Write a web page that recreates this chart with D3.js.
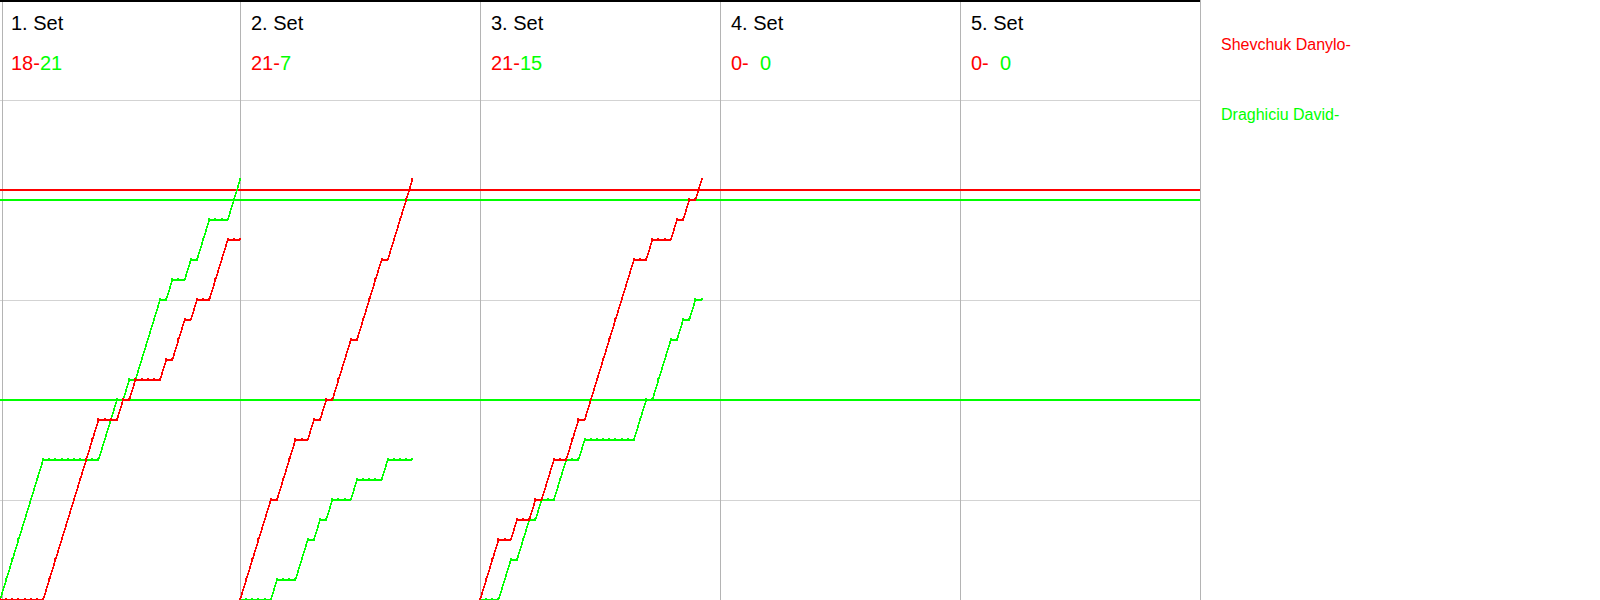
<!DOCTYPE html>
<html><head><meta charset="utf-8">
<script src="https://cdn.jsdelivr.net/npm/d3@7"></script>
<style>body{margin:0;background:#fff;} svg{display:block;font-family:"Liberation Sans",Arial,sans-serif;}</style>
</head><body><svg id="c" width="1600" height="600"></svg>
<script>
// ---- data ----
const setLabels = ["1. Set", "2. Set", "3. Set", "4. Set", "5. Set"];
const redScores = [18, 21, 21, 0, 0];
const greenScores = [21, 7, 15, 0, 0];
const playerNames = ["Shevchuk Danylo-", "Draghiciu David-"];
// rally winners per set: R = Shevchuk Danylo, G = Draghiciu David
const set1Winners = "GGGGGGGRRRRRRRRRGGGRGRGGGGRGRRGRGGRRRGG".split("");
const set2Winners = "RRRRRGRRRGGRGRGRRRGRRRRGRRRR".split("");
const set3Winners = "RRRGGRGGRGRRGGRRGRRRRRRRRGGRGGGRGRGR".split("");
const set4Winners = [];
const set5Winners = [];
const gridScores = [5, 10, 15, 20, 25];
const refLineScores = [20.5, 20, 10];
const refLinePlayers = ["R", "G", "G"];

// ---- drawing ----
const W = 1600, H = 600, panelW = 240, nSets = 5;
const plotRight = panelW * nSets;
const COLORS = { R: "#ff0000", G: "#00ff00" };
const allWinners = [set1Winners, set2Winners, set3Winners, set4Winners, set5Winners];
const maxRallies = d3.max(allWinners, w => w.length);

const svg = d3.select("#c");
svg.append("rect").attr("width", W).attr("height", H).attr("fill", "#fff");

const y = d3.scaleLinear().domain([0, 25]).range([600, 100]);

// horizontal gridlines
svg.append("g").selectAll("line").data(gridScores).join("line")
  .attr("x1", 0).attr("x2", plotRight)
  .attr("y1", d => Math.round(y(d)) + 0.5).attr("y2", d => Math.round(y(d)) + 0.5)
  .attr("stroke", "#d3d3d3").attr("stroke-width", 1);

// vertical separators
const sepX = d3.range(nSets + 1).map(i => i === 0 ? 2 : i * panelW);
svg.append("g").selectAll("line").data(sepX).join("line")
  .attr("x1", d => d + 0.5).attr("x2", d => d + 0.5)
  .attr("y1", 0).attr("y2", H)
  .attr("stroke", "#b4b4b4").attr("stroke-width", 1);

// top border
svg.append("rect").attr("x", 0).attr("y", 0).attr("width", plotRight).attr("height", 2).attr("fill", "#000");

// reference lines
svg.append("g").selectAll("line").data(refLineScores).join("line")
  .attr("x1", 0).attr("x2", plotRight)
  .attr("y1", d => y(d)).attr("y2", d => y(d))
  .attr("stroke", (d, i) => COLORS[refLinePlayers[i]]).attr("stroke-width", 1.5)
  .attr("shape-rendering", "crispEdges");

// per set
allWinners.forEach((winners, k) => {
  const x0 = k * panelW;
  const x = d3.scaleLinear().domain([0, maxRallies]).range([x0, x0 + panelW]);
  const g = svg.append("g");
  g.append("text").attr("x", x0 + 11).attr("y", 30).attr("font-size", 20).attr("fill", "#000").text(setLabels[k]);
  g.append("text").attr("x", x0 + 11).attr("y", 70).attr("font-size", 20).attr("fill", COLORS.R).text(redScores[k] + "-");
  g.append("text").attr("x", x0 + 40).attr("y", 70).attr("font-size", 20).attr("fill", COLORS.G).text(greenScores[k]);
  if (!winners.length) return;
  // cumulative scores
  let r = 0, gs = 0;
  const pts = [{ i: 0, R: 0, G: 0 }];
  winners.forEach((w, i) => { if (w === "R") r++; else gs++; pts.push({ i: i + 1, R: r, G: gs }); });
  ["G", "R"].forEach(p => {
    const line = d3.line().x(d => x(d.i)).y(d => y(d[p]));
    g.append("path").datum(pts).attr("d", line).attr("fill", "none")
      .attr("stroke", COLORS[p]).attr("stroke-width", 1.6).attr("shape-rendering", "crispEdges");
    g.append("g").selectAll("rect").data(pts).join("rect")
      .attr("x", d => Math.round(x(d.i)) - 1).attr("y", d => Math.round(y(d[p])) - 2)
      .attr("width", 2).attr("height", 2).attr("fill", COLORS[p]);
  });
});

// legend
svg.append("g").selectAll("text").data(playerNames).join("text")
  .attr("x", 1221).attr("y", (d, i) => 50 + i * 70)
  .attr("font-size", 16).attr("fill", (d, i) => i === 0 ? COLORS.R : COLORS.G)
  .text(d => d);
</script></body></html>
